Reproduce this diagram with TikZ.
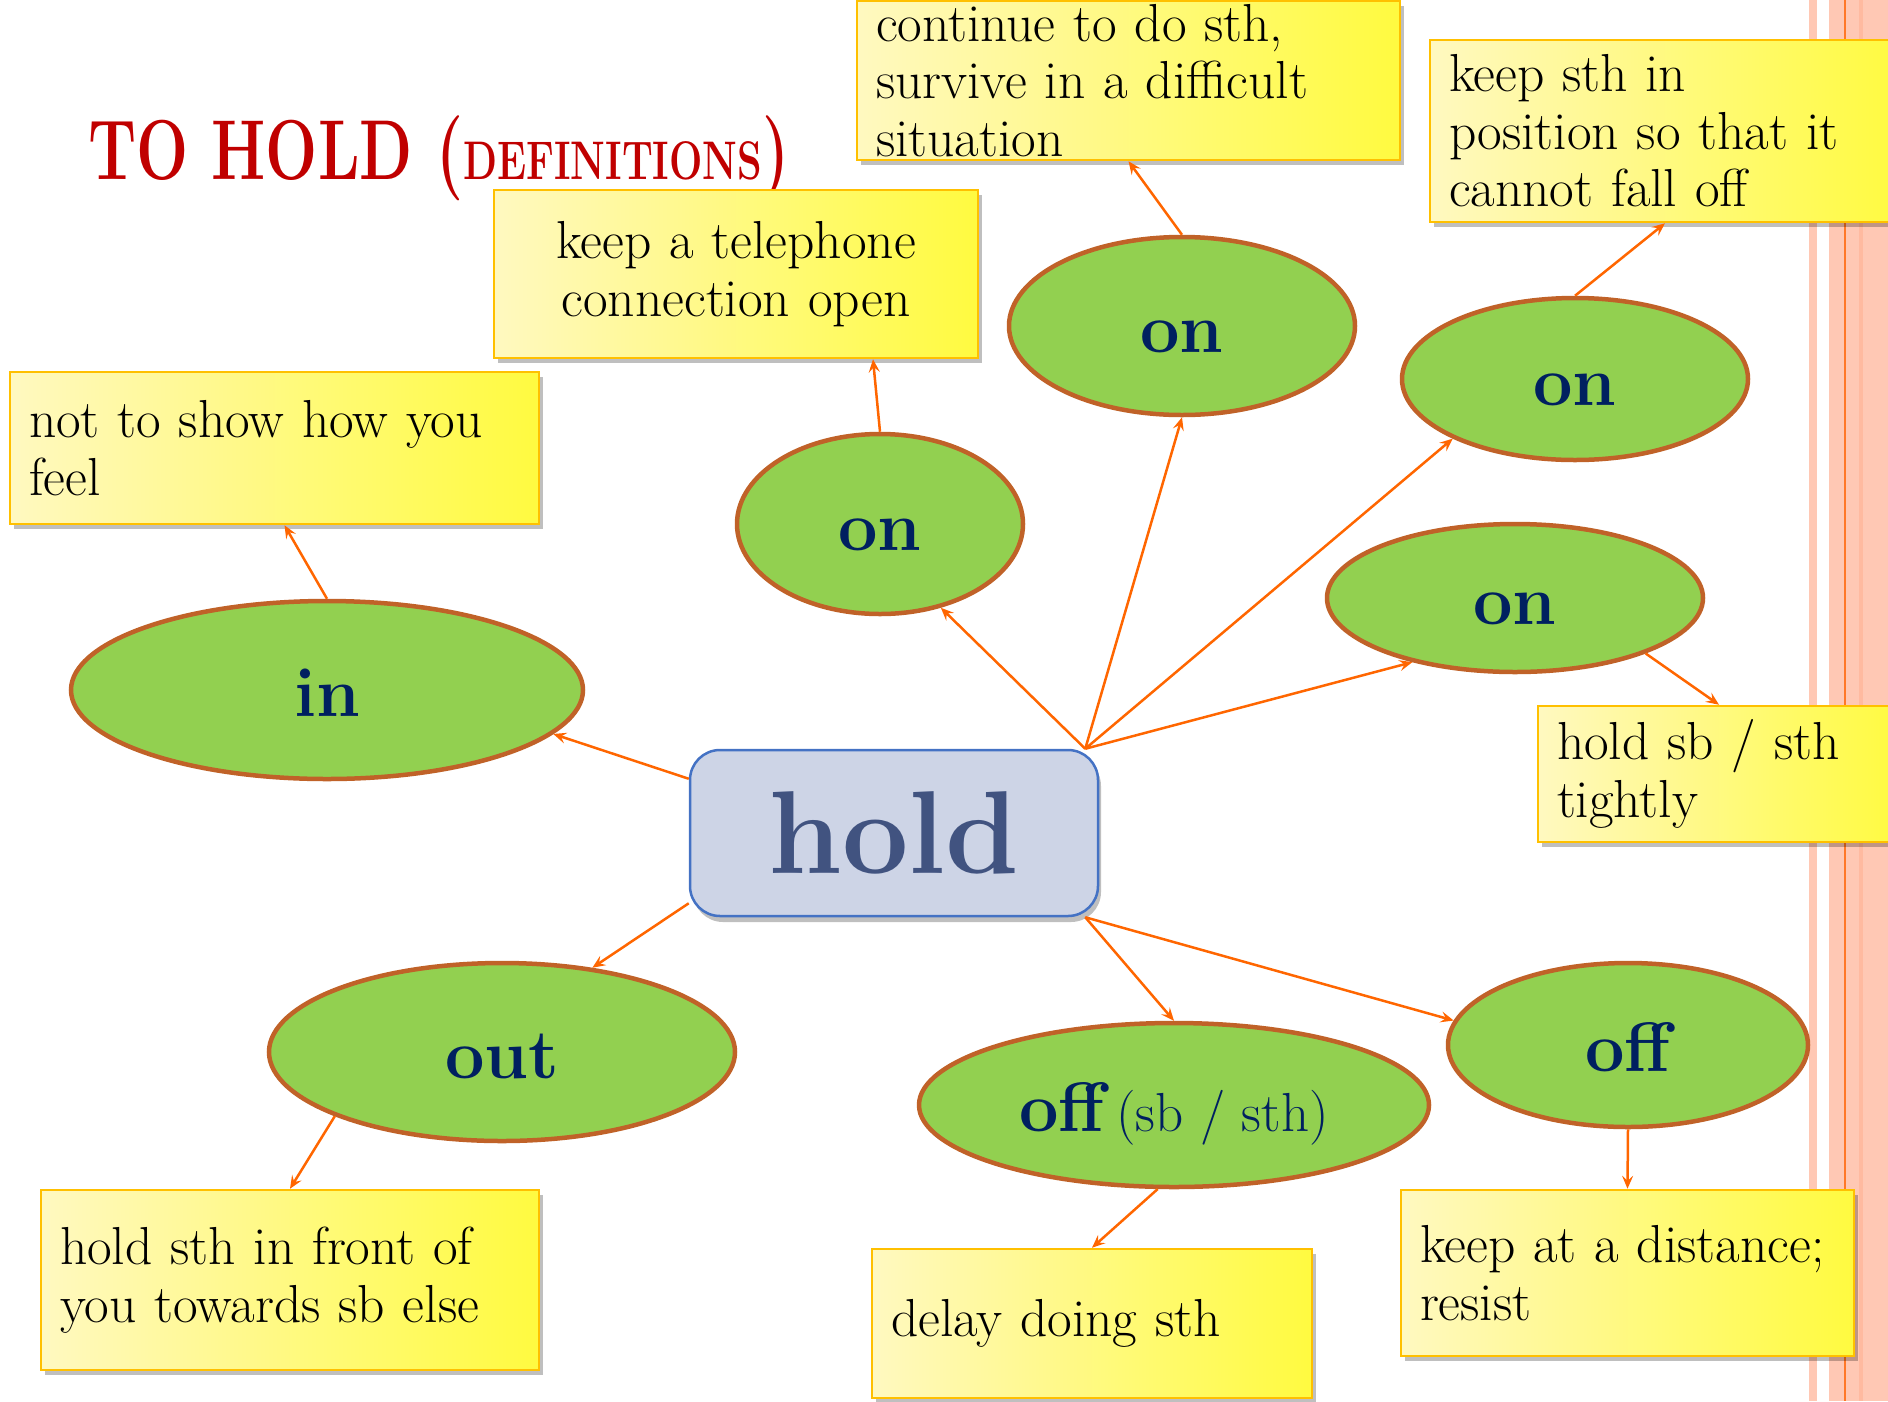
\documentclass[tikz,border=0pt]{standalone}
\usepackage{graphicx}
\usetikzlibrary{shapes.geometric, shadows, backgrounds, arrows.meta}

\definecolor{leafgreen}{RGB}{146,208,80}
\definecolor{rimbrown}{RGB}{192,98,40}
\definecolor{inknavy}{RGB}{0,32,96}
\definecolor{arroworange}{RGB}{255,102,0}
\definecolor{notepale}{RGB}{255,249,192}
\definecolor{notebright}{RGB}{255,250,64}
\definecolor{notegold}{RGB}{255,192,0}
\definecolor{holdfill}{RGB}{205,212,230}
\definecolor{holdrim}{RGB}{68,114,196}
\definecolor{holdink}{RGB}{65,83,128}
\definecolor{titlered}{RGB}{192,0,0}
\definecolor{stripesalmon}{RGB}{255,200,180}
\definecolor{stripedeep}{RGB}{255,186,160}
\definecolor{stripeline}{RGB}{255,120,40}

\begin{document}
\begin{tikzpicture}[
    x=1pt, y=-1pt,
    >={Stealth[length=13pt, width=11pt, inset=5pt]},
    meaning/.style={draw=notegold, line width=2.5pt, rectangle, left color=notepale, right color=notebright, inner xsep=19pt, inner ysep=0pt, align=left, font={\fontsize{53.5}{57.5}\selectfont}, drop shadow={shadow xshift=4pt, shadow yshift=-5pt, opacity=0.25, fill=black}},
    particle/.style={draw=rimbrown, line width=4.5pt, ellipse, fill=leafgreen, inner sep=0pt, text height=52pt, text depth=0pt, text=inknavy, font={\fontsize{70}{80}\selectfont\bfseries}},
    verb/.style={draw=holdrim, line width=2.5pt, fill=holdfill, rounded corners=30pt, minimum width=408pt, minimum height=166pt, text=holdink, font={\fontsize{118}{124}\selectfont\bfseries}, drop shadow={shadow xshift=3pt, shadow yshift=-6pt, opacity=0.25, fill=black}},
    link/.style={->, draw=arroworange, line width=2.5pt}
]
\useasboundingbox (0,0) rectangle (1888,1401);
\clip (0,0) rectangle (1888,1401);

% -------------------------
% Title
% -------------------------
\node[anchor=base west, inner sep=0pt, text=titlered, font={\fontsize{85}{90}\selectfont\bfseries}] (Title) at (88,179) {\resizebox{701pt}{\height}{TO HOLD ({\fontsize{54.4}{60}\selectfont DEFINITIONS})}};

% -------------------------
% Centre Verb
% -------------------------
\node[verb] (Hold) at (894,833) {hold};

% -------------------------
% Particles (Ellipses)
% -------------------------
\node[particle, minimum width=512pt, minimum height=178pt] (PIn) at (327,690) {in};
\node[particle, minimum width=286pt, minimum height=180pt] (POnA) at (880,524) {on};
\node[particle, minimum width=346pt, minimum height=178pt] (POnB) at (1182,326) {on};
\node[particle, minimum width=346pt, minimum height=162pt] (POnC) at (1575,379) {on};
\node[particle, minimum width=376pt, minimum height=148pt] (POnD) at (1515,598) {on};
\node[particle, minimum width=466pt, minimum height=178pt] (POut) at (502,1052) {out};
\node[particle, minimum width=510pt, minimum height=164pt] (POffA) at (1174,1105) {off\,{\fontsize{55}{60}\selectfont\mdseries (sb / sth)}};
\node[particle, minimum width=360pt, minimum height=164pt] (POffB) at (1628,1045) {off};

% -------------------------
% Definitions (Yellow Notes)
% -------------------------
\node[meaning, text width=505pt, minimum height=159pt] (D1) at (1128.5,80.5) {continue to do sth,\\survive in a difficult\\situation};
\node[meaning, text width=432pt, minimum height=182pt] (D2) at (1665,131) {keep sth in\\position so that it\\cannot fall off};
\node[meaning, text width=446pt, minimum height=168pt, align=center] (D3) at (736,274) {keep a telephone\\connection open};
\node[meaning, text width=491pt, minimum height=152pt] (D4) at (274.5,448) {not to show how you\\feel};
\node[meaning, text width=324pt, minimum height=136pt] (D5) at (1719,774) {hold sb / sth\\tightly};
\node[meaning, text width=460pt, minimum height=180pt] (D6) at (290,1280) {hold sth in front of\\you towards sb else};
\node[meaning, text width=402pt, minimum height=149pt] (D7) at (1092,1323.5) {delay doing sth};
\node[meaning, text width=415pt, minimum height=166pt] (D8) at (1627.5,1273) {keep at a distance;\\resist};

% -------------------------
% Links from the verb
% -------------------------
\draw[link] ([yshift=-30pt]Hold.north west) -- (PIn.-11);
\draw[link] ([yshift=14pt]Hold.south west) -- (POut.43);
\draw[link] ([xshift=-14pt]Hold.north east) -- (POnA.-54);
\draw[link] ([xshift=-14pt]Hold.north east) -- (POnB.south);
\draw[link] ([xshift=-14pt]Hold.north east) -- (POnC.-154);
\draw[link] ([xshift=-14pt]Hold.north east) -- (POnD.-148);
\draw[link] ([xshift=-14pt]Hold.south east) -- (POffA.north);
\draw[link] ([xshift=-14pt]Hold.south east) -- (POffB.172);

% -------------------------
% Links to the meanings
% -------------------------
\draw[link] (PIn.north) -- ([xshift=10pt]D4.south);
\draw[link] (POnA.north) -- ([xshift=137pt]D3.south);
\draw[link] (POnB.north) -- (D1.south);
\draw[link] (POnC.north) -- (D2.south);
\draw[link] (POnD.-23) -- (D5.north);
\draw[link] (POut.-159) -- (D6.north);
\draw[link] (POffA.-101) -- (D7.north);
\draw[link] (POffB.south) -- (D8.north);

% -------------------------
% Side Stripes
% -------------------------
\begin{scope}[on background layer]
    \fill[stripesalmon] (1809,0) rectangle (1817,1401);
    \fill[stripesalmon] (1829,0) rectangle (1888,1401);
    \fill[stripedeep] (1859,0) rectangle (1863,1401);
    \fill[stripeline] (1844,0) rectangle (1846,1401);
\end{scope}

\end{tikzpicture}
\end{document}
